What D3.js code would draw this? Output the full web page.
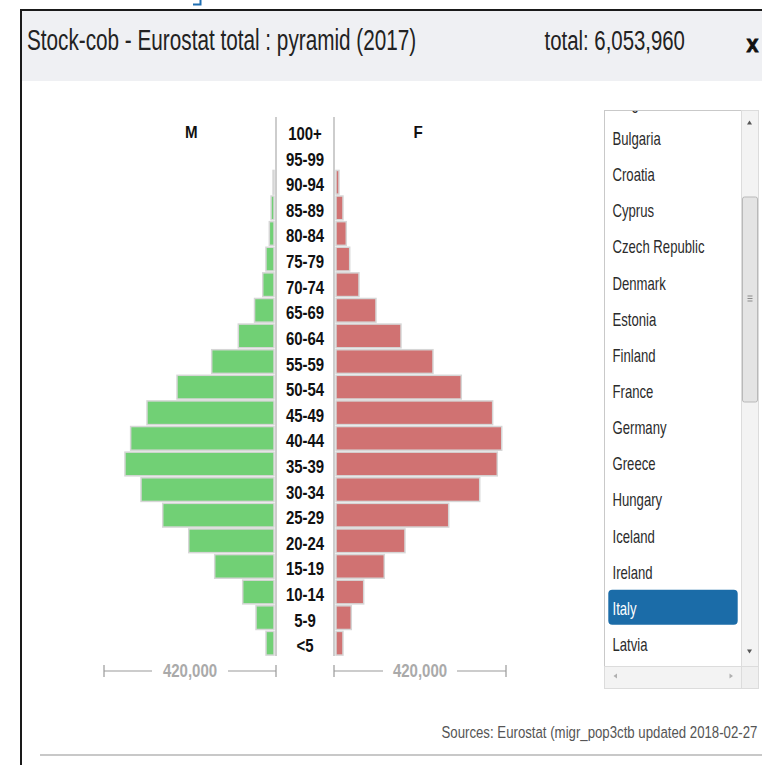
<!DOCTYPE html>
<html>
<head>
<meta charset="utf-8">
<script src="https://cdn.jsdelivr.net/npm/d3@7/dist/d3.min.js"></script>
<style>
  html, body { margin: 0; padding: 0; background: #fff; }
  svg { display: block; }
  text { font-family: "Liberation Sans", Arial, Helvetica, sans-serif; }
</style>
</head>
<body>
<svg id="chart" width="762" height="765"></svg>
<script>
// Age groups, oldest first (top of the pyramid)
const ages = ["100+", "95-99", "90-94", "85-89", "80-84", "75-79", "70-74", "65-69",
  "60-64", "55-59", "50-54", "45-49", "40-44", "35-39", "30-34", "25-29",
  "20-24", "15-19", "10-14", "5-9", "<5"];

// Foreign-born stock by sex, Italy 2017
const male = [400, 3600, 7200, 12100, 16300, 24500, 32400, 52400,
  92000, 157000, 241700, 315000, 354960, 368800, 329600, 276600,
  213100, 149700, 81300, 48800, 24400];
const female = [1600, 4200, 12200, 21900, 30000, 38300, 61000, 102500,
  163600, 241700, 310800, 387400, 409600, 398700, 355800, 280100,
  173300, 122800, 72500, 42200, 21900];

const scaleValue = 420000;

const countries = ["Belgium", "Bulgaria", "Croatia", "Cyprus", "Czech Republic", "Denmark",
  "Estonia", "Finland", "France", "Germany", "Greece", "Hungary", "Iceland",
  "Ireland", "Italy", "Latvia"];
const selectedCountry = "Italy";

const titleText = "Stock-cob - Eurostat total : pyramid (2017)";
const sourceText = "Sources: Eurostat (migr_pop3ctb updated 2018-02-27";

const svg = d3.select("#chart");

// text helper: horizontally condensed glyphs anchored at (x, y)
function label(g, x, y, str, o) {
  return g.append("text")
    .attr("transform", `translate(${x},${y}) scale(${o.sx || 1},1)`)
    .attr("text-anchor", o.anchor || "start")
    .style("font-size", o.size + "px")
    .style("font-weight", o.weight || "normal")
    .style("fill", o.fill || "#222")
    .text(str);
}

// ---------- window frame ----------
svg.append("path").attr("d", "M193,4.5H200.5V0").attr("fill", "none")
  .attr("stroke", "#1f6fb2").attr("stroke-width", 2);
svg.append("rect").attr("x", 21).attr("y", 10).attr("width", 741).attr("height", 71)
  .attr("fill", "#eff0f3");
svg.append("line").attr("x1", 20).attr("x2", 762).attr("y1", 10).attr("y2", 10)
  .attr("stroke", "#1a1a1a").attr("stroke-width", 2);
svg.append("line").attr("x1", 21).attr("x2", 21).attr("y1", 9).attr("y2", 765)
  .attr("stroke", "#1a1a1a").attr("stroke-width", 2);

const total = d3.sum(male) + d3.sum(female);
label(svg, 27, 49.5, titleText, { size: 29, sx: 0.715 });
label(svg, 544.5, 50, "total: " + d3.format(",")(total), { size: 27, sx: 0.755 });
label(svg, 746.5, 51.5, "x", { size: 24, sx: 0.9, weight: "bold", fill: "#111" })
  .style("stroke", "#111").style("stroke-width", 0.8);

// ---------- pyramid ----------
const y = d3.scaleBand().domain(ages).range([118.7, 655.6])
  .paddingInner(0.075).paddingOuter(0.02);
const axisM = 276, axisF = 334;
const xM = d3.scaleLinear().domain([0, scaleValue]).range([axisM, axisM - 172]);
const xF = d3.scaleLinear().domain([0, scaleValue]).range([axisF, axisF + 172]);

const g = svg.append("g");
const rows = ages.map((a, i) => ({ age: a, m: male[i], f: female[i] }));

g.selectAll("rect.m").data(rows).join("rect").attr("class", "m")
  .attr("x", d => Math.min(xM(d.m), axisM - 2))
  .attr("width", d => Math.max(0, (axisM - 2) - xM(d.m)))
  .attr("y", d => y(d.age)).attr("height", y.bandwidth())
  .attr("fill", "#71d075").attr("stroke", "#d6d6d6").attr("stroke-width", 1.5);

g.selectAll("rect.f").data(rows).join("rect").attr("class", "f")
  .attr("x", axisF + 2)
  .attr("width", d => Math.max(0, xF(d.f) - (axisF + 2)))
  .attr("y", d => y(d.age)).attr("height", y.bandwidth())
  .attr("fill", "#d07272").attr("stroke", "#d6d6d6").attr("stroke-width", 1.5);

// centre divider lines
[axisM, axisF].forEach(x => {
  g.append("line").attr("x1", x).attr("x2", x).attr("y1", 117).attr("y2", 656)
    .attr("stroke", "#bdbdbd").attr("stroke-width", 1.5);
});

// age labels
rows.forEach(d => {
  label(g, 305, y(d.age) + y.bandwidth() / 2 + 9, d.age,
    { size: 17.7, sx: 0.845, weight: "bold", anchor: "middle", fill: "#111" });
});
label(g, 191.3, 138.3, "M", { size: 17, sx: 0.89, weight: "bold", anchor: "middle", fill: "#111" });
label(g, 418.2, 138.3, "F", { size: 17, sx: 0.89, weight: "bold", anchor: "middle", fill: "#111" });

// scale brackets
function bracket(x0, x1, gapHalf) {
  const yy = 671, mid = (x0 + x1) / 2;
  const s = g.append("g").attr("stroke", "#9a9a9a").attr("stroke-width", 1.2).attr("fill", "none");
  s.append("path").attr("d", `M${x0},${yy - 6}V${yy + 6}M${x0},${yy}H${mid - gapHalf}`);
  s.append("path").attr("d", `M${x1},${yy - 6}V${yy + 6}M${x1},${yy}H${mid + gapHalf}`);
  label(g, mid, 677, d3.format(",")(scaleValue),
    { size: 19, sx: 0.79, weight: "bold", anchor: "middle", fill: "#aaaaaa" });
}
bracket(xM(scaleValue), xM(0), 38);
bracket(xF(0), xF(scaleValue), 37);

// ---------- country list ----------
const lb = svg.append("g");
lb.append("rect").attr("x", 604.5).attr("y", 110.5).attr("width", 154).attr("height", 578)
  .attr("fill", "#fff").attr("stroke", "#c9c9c9");
lb.append("clipPath").attr("id", "listclip").append("rect")
  .attr("x", 605).attr("y", 111).attr("width", 136.5).attr("height", 555.5);
const items = lb.append("g").attr("clip-path", "url(#listclip)");
const firstBase = 108.8, step = 36.15;
countries.forEach((c, i) => {
  const base = firstBase + i * step;
  const sel = c === selectedCountry;
  if (sel) {
    items.append("rect").attr("x", 608.3).attr("y", base - 25.2).attr("width", 129.4)
      .attr("height", 35).attr("rx", 4).attr("fill", "#1b6ca8");
  }
  label(items, 612.5, base, c, { size: 18, sx: 0.73, fill: sel ? "#fff" : "#2b2b2b" });
});

// vertical scrollbar
lb.append("rect").attr("x", 741.5).attr("y", 110.5).attr("width", 17).attr("height", 556)
  .attr("fill", "#f3f3f3").attr("stroke", "#dcdcdc");
lb.append("rect").attr("x", 742.5).attr("y", 197).attr("width", 15).attr("height", 205)
  .attr("rx", 2).attr("fill", "#e4e4e4").attr("stroke", "#b9b9b9");
[296, 298.5, 301].forEach(yy => lb.append("line").attr("x1", 747.5).attr("x2", 752.5)
  .attr("y1", yy).attr("y2", yy).attr("stroke", "#8a8a8a"));
lb.append("path").attr("d", "M747,124.5L752,124.5L749.5,120.5Z").attr("fill", "#555");
lb.append("path").attr("d", "M747,649.5L752,649.5L749.5,653.5Z").attr("fill", "#555");
// horizontal scrollbar
lb.append("rect").attr("x", 604.5).attr("y", 666.5).attr("width", 137).attr("height", 22)
  .attr("fill", "#f3f3f3").attr("stroke", "#dcdcdc");
lb.append("rect").attr("x", 741.5).attr("y", 666.5).attr("width", 17).attr("height", 22)
  .attr("fill", "#efefef").attr("stroke", "#dcdcdc");
lb.append("path").attr("d", "M617,673.5L617,678.5L613.5,676Z").attr("fill", "#b0b0b0");
lb.append("path").attr("d", "M729.5,673.5L729.5,678.5L733,676Z").attr("fill", "#b0b0b0");

// ---------- footer ----------
label(svg, 441.5, 737.5, sourceText, { size: 17, sx: 0.778, fill: "#555" });
svg.append("line").attr("x1", 40).attr("x2", 762).attr("y1", 755).attr("y2", 755)
  .attr("stroke", "#c8c8c8").attr("stroke-width", 2);
</script>
</body>
</html>
